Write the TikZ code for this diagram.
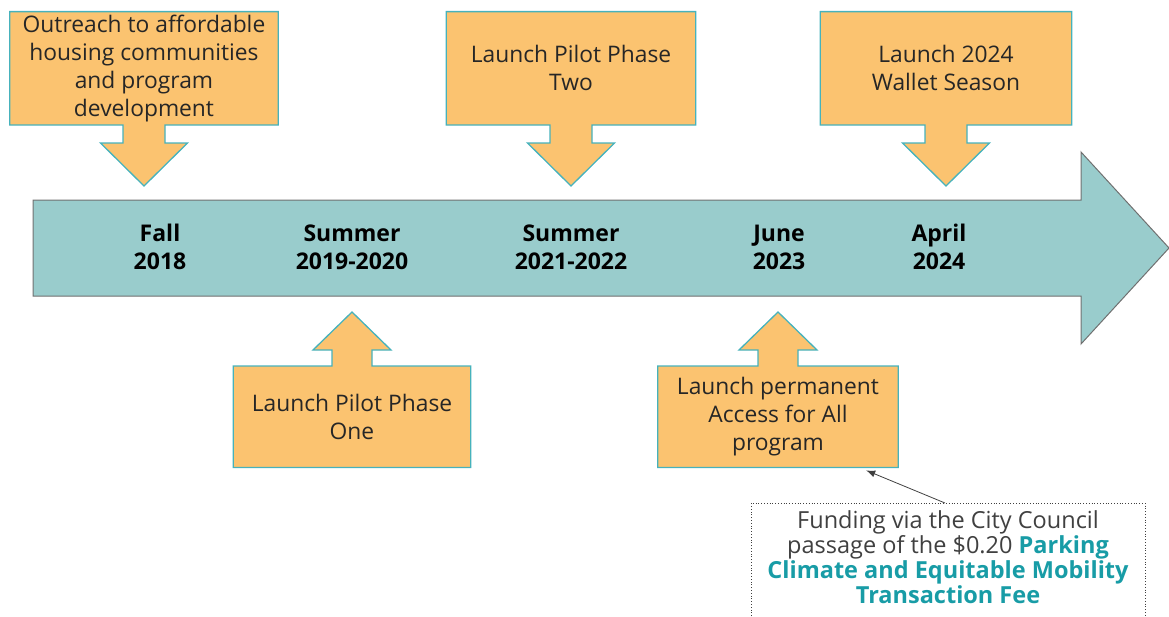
\documentclass[tikz,border=0pt]{standalone}
\usepackage{fontspec}
\setmainfont{Open Sans}
\usepackage{tikz}
\usetikzlibrary{positioning}
\usetikzlibrary{calc,backgrounds}
\usetikzlibrary{arrows.meta}
\definecolor{boxfill}{RGB}{251,195,112}
\definecolor{boxline}{RGB}{70,178,188}
\definecolor{axisfill}{RGB}{153,204,204}
\definecolor{axisline}{RGB}{112,112,112}
\definecolor{feeteal}{RGB}{24,156,166}
\definecolor{notegray}{RGB}{64,64,64}
\tikzstyle{eventbox}=[inner sep=0pt, align=center, text=black!85, font=\fontsize{22.8}{28}\selectfont]
\tikzstyle{callout}=[fill=boxfill, draw=boxline, line width=1.3pt, line join=miter]
\tikzstyle{timeline}=[fill=axisfill, draw=axisline, line width=1pt]
\tikzstyle{datelabel}=[align=center, font=\bfseries\fontsize{23}{28}\selectfont]
\tikzstyle{notetext}=[align=center, text=notegray, font=\fontsize{23.5}{25}\selectfont]
\tikzstyle{notebox}=[draw=black!75, dotted, line width=0.8pt]
\tikzstyle{pointer}=[draw=black!75, line width=0.8pt, -{Latex[length=9pt,width=7pt]}]

% box above the timeline, pointing down: #1 box, #2 tip
\newcommand{\calldown}[2]{%
  \draw[callout] (#2) -- ++(43.5,-43) -- ++(-22.5,0) -- ++(0,-18)
    -- (#1.south east) -- (#1.north east) -- (#1.north west) -- (#1.south west)
    -- ($(#2)+(-21,-61)$) -- ++(0,18) -- ++(-22.5,0) -- cycle;}
% box below the timeline, pointing up
\newcommand{\callup}[2]{%
  \draw[callout] (#2) -- ++(39,38) -- ++(-19,0) -- ++(0,16)
    -- (#1.north east) -- (#1.south east) -- (#1.south west) -- (#1.north west)
    -- ($(#2)+(-20,54)$) -- ++(0,-16) -- ++(-19,0) -- cycle;}

\begin{document}
\begin{tikzpicture}[x=1pt,y=-1pt]
\useasboundingbox (0,0) rectangle (1169,616);
% timeline
\draw[timeline] (33,200) -- (1081,200) -- (1081,152) -- (1169,248)
  -- (1081,344) -- (1081,296) -- (33,296) -- cycle;
\node[datelabel] (d2018) at (160,247) {Fall\\2018};
\node[datelabel] (d2019) at (352,247) {Summer\\2019-2020};
\node[datelabel] (d2021) at (571,247) {Summer\\2021-2022};
\node[datelabel] (d2023) at (779,247) {June\\2023};
\node[datelabel] (d2024) at (939,247) {April\\2024};
% arrow tips
\coordinate (fall) at (144,186);
\coordinate (phase2) at (571,186);
\coordinate (wallet) at (946,186);
\coordinate (phase1) at (352,312);
\coordinate (perm) at (778,312);
% events
\node[eventbox, minimum width=268pt, minimum height=113pt, above=61pt of fall] (outreach)
  {Outreach to affordable\\housing communities\\and program\\development};
\node[eventbox, minimum width=249pt, minimum height=113pt, above=61pt of phase2] (pilottwo)
  {Launch Pilot Phase\\Two};
\node[eventbox, minimum width=251pt, minimum height=113pt, above=61pt of wallet] (season)
  {Launch 2024\\Wallet Season};
\node[eventbox, minimum width=237pt, minimum height=101pt, below=54pt of phase1] (pilotone)
  {Launch Pilot Phase\\One};
\node[eventbox, minimum width=240pt, minimum height=101pt, below=54pt of perm] (permanent)
  {Launch permanent\\Access for All\\program};
\begin{scope}[on background layer]
\calldown{outreach}{fall}
\calldown{pilottwo}{phase2}
\calldown{season}{wallet}
\callup{pilotone}{phase1}
\callup{permanent}{perm}
\end{scope}
% funding note
\node[notetext] (fund) at (948,557) {Funding via the City Council\\
  passage of the \$0.20 \textcolor{feeteal}{\bfseries Parking}\\
  \textcolor{feeteal}{\bfseries Climate and Equitable Mobility}\\
  \textcolor{feeteal}{\bfseries Transaction Fee}};
\draw[notebox] (751,616) |- (1145,503) -- (1145,616);
\coordinate (fundtop) at (945,503);
\draw[pointer] (fundtop) -- ([shift={(-32,3)}]permanent.south east);
\end{tikzpicture}
\end{document}
